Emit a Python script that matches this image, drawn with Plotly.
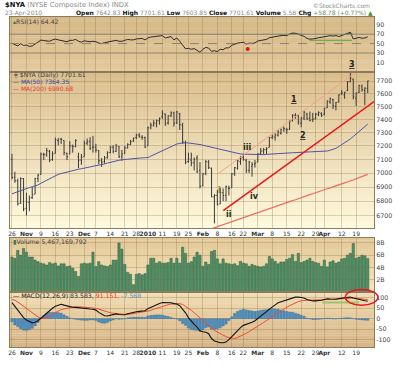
import math
import pandas as pd
import plotly.graph_objects as go

# ---------------- DATA ----------------
HOLIDAYS = ["2009-11-26", "2009-12-25", "2010-01-01", "2010-01-18", "2010-02-15", "2010-04-02"]
trading_days = [d for d in pd.bdate_range("2009-10-26", "2010-04-23")
                if d.strftime("%Y-%m-%d") not in HOLIDAYS]
day_index = {d.strftime("%Y-%m-%d"): i for i, d in enumerate(trading_days)}
xi = list(range(len(trading_days)))

tick_dates = ["2009-10-26", "2009-11-02", "2009-11-09", "2009-11-16", "2009-11-23", "2009-12-01",
              "2009-12-07", "2009-12-14", "2009-12-21", "2009-12-28", "2010-01-04", "2010-01-11",
              "2010-01-19", "2010-01-25", "2010-02-01", "2010-02-08", "2010-02-16", "2010-02-22",
              "2010-03-01", "2010-03-08", "2010-03-15", "2010-03-22", "2010-03-29", "2010-04-01",
              "2010-04-12", "2010-04-19"]
tick_labels = ["26", "Nov", "9", "16", "23", "Dec", "7", "14", "21", "28", "2010", "11", "19", "25",
               "Feb", "8", "16", "22", "Mar", "8", "15", "22", "29", "Apr", "12", "19"]
bold_labels = {"Nov", "Dec", "2010", "Feb", "Mar", "Apr"}

opens = [7100, 6970, 6945, 6785, 6960, 6750, 6790, 6825, 6850, 6960,
         6990, 7135, 7135, 7160, 7100, 7145, 7240, 7250, 7240, 7145,
         7140, 7200, 7195, 7120, 7095, 7120, 7220, 7235, 7190, 7190,
         7165, 7090, 7085, 7115, 7150, 7190, 7160, 7195, 7120, 7145,
         7185, 7210, 7235, 7262, 7282, 7265, 7262, 7200, 7336, 7356,
         7370, 7390, 7420, 7440, 7372, 7428, 7450, 7375, 7445, 7355,
         7225, 7085, 7095, 7075, 7110, 7020, 6910, 6995, 7080, 7035,
         6830, 6840, 6780, 6860, 6840, 6890, 6895, 6995, 7035, 7085,
         7115, 7090, 7020, 7050, 7065, 7080, 7145, 7162, 7172, 7190,
         7262, 7265, 7280, 7295, 7335, 7320, 7325, 7390, 7430, 7430,
         7370, 7410, 7440, 7410, 7400, 7405, 7440, 7445, 7440, 7490,
         7535, 7555, 7500, 7535, 7600, 7590, 7625, 7695, 7715, 7565,
         7610, 7660, 7625, 7642.83]
highs = [7140, 7010, 6960, 6970, 6965, 6860, 6840, 6900, 6965, 6995,
         7150, 7150, 7185, 7170, 7160, 7262, 7258, 7260, 7242, 7150,
         7235, 7210, 7250, 7150, 7140, 7240, 7255, 7265, 7275, 7215,
         7170, 7110, 7125, 7160, 7200, 7205, 7215, 7200, 7170, 7200,
         7220, 7245, 7262, 7290, 7295, 7280, 7270, 7345, 7375, 7395,
         7398, 7415, 7470, 7445, 7432, 7462, 7460, 7465, 7450, 7375,
         7240, 7150, 7150, 7115, 7130, 7080, 7000, 7095, 7095, 7040,
         6850, 6880, 6895, 6890, 6910, 6910, 7000, 7045, 7095, 7125,
         7140, 7105, 7090, 7080, 7095, 7145, 7185, 7185, 7190, 7268,
         7285, 7295, 7320, 7330, 7345, 7335, 7395, 7440, 7448, 7438,
         7420, 7465, 7450, 7460, 7450, 7450, 7462, 7455, 7490, 7548,
         7570, 7560, 7535, 7595, 7628, 7615, 7700, 7765, 7718, 7610,
         7670, 7672, 7650, 7701.61]
lows = [6955, 6930, 6770, 6780, 6730, 6700, 6730, 6815, 6850, 6935,
        6990, 7095, 7120, 7080, 7090, 7145, 7205, 7215, 7130, 7095,
        7140, 7150, 7190, 7035, 7060, 7120, 7205, 7170, 7150, 7150,
        7065, 7045, 7070, 7105, 7145, 7145, 7155, 7110, 7090, 7140,
        7180, 7205, 7230, 7250, 7260, 7245, 7185, 7200, 7325, 7345,
        7340, 7360, 7405, 7350, 7360, 7418, 7345, 7365, 7320, 7215,
        7065, 7075, 7050, 7020, 7000, 6890, 6905, 6985, 7030, 6828,
        6645, 6770, 6780, 6800, 6800, 6840, 6895, 6980, 7025, 7060,
        7090, 7000, 7000, 6975, 7040, 7080, 7140, 7140, 7140, 7188,
        7250, 7240, 7270, 7285, 7305, 7290, 7320, 7385, 7405, 7360,
        7340, 7395, 7395, 7385, 7380, 7400, 7425, 7420, 7430, 7488,
        7520, 7480, 7470, 7530, 7590, 7560, 7620, 7690, 7555, 7505,
        7605, 7615, 7510, 7603.85]
closes = [6968, 6945, 6780, 6960, 6745, 6795, 6822, 6846, 6962, 6985,
          7140, 7135, 7165, 7095, 7140, 7245, 7252, 7248, 7150, 7120,
          7200, 7195, 7240, 7095, 7115, 7220, 7232, 7180, 7190, 7170,
          7090, 7080, 7110, 7150, 7190, 7160, 7200, 7120, 7140, 7185,
          7210, 7232, 7258, 7282, 7272, 7262, 7190, 7336, 7356, 7372,
          7390, 7408, 7448, 7372, 7428, 7450, 7370, 7458, 7360, 7230,
          7080, 7105, 7075, 7098, 7010, 6905, 6995, 7085, 7040, 6830,
          6840, 6775, 6860, 6840, 6905, 6890, 6995, 7040, 7090, 7108,
          7100, 7020, 7080, 7062, 7072, 7140, 7162, 7172, 7180, 7262,
          7272, 7280, 7305, 7322, 7330, 7322, 7385, 7432, 7428, 7382,
          7410, 7455, 7405, 7392, 7402, 7440, 7452, 7430, 7482, 7540,
          7560, 7505, 7530, 7590, 7605, 7610, 7695, 7722, 7578, 7605,
          7665, 7632, 7642.83, 7701.61]

ma50 = [6852, 6860, 6868, 6875, 6883, 6890, 6896, 6902, 6908, 6915,
        6927, 6938, 6950, 6961, 6972, 6984, 6991, 6997, 7003, 7009,
        7015, 7020, 7024, 7028, 7032, 7036, 7040, 7044, 7048, 7052,
        7055, 7061, 7067, 7073, 7079, 7085, 7090, 7094, 7097, 7100,
        7102, 7105, 7107, 7109, 7110, 7111, 7112, 7114, 7124, 7134,
        7144, 7155, 7165, 7176, 7186, 7196, 7206, 7214, 7219, 7222,
        7223, 7222, 7220, 7218, 7215, 7210, 7205, 7200, 7195, 7190,
        7185, 7180, 7175, 7170, 7163, 7158, 7153, 7148, 7144, 7140,
        7139, 7138, 7137, 7136, 7135, 7134, 7133, 7135, 7137, 7139,
        7141, 7142, 7143, 7145, 7146, 7147, 7148, 7149, 7150, 7151,
        7152, 7153, 7153, 7154, 7154, 7155, 7156, 7156, 7157, 7162,
        7168, 7175, 7182, 7195, 7208, 7222, 7235, 7252, 7270, 7288,
        7306, 7325, 7344, 7364.35]

ma200_first_day = 60
ma200 = [6546, 6552, 6560, 6566, 6574, 6580, 6588, 6594, 6602, 6609,
         6615, 6621, 6629, 6635, 6643, 6650, 6656, 6664, 6670, 6678,
         6685, 6691, 6699, 6705, 6713, 6720, 6726, 6734, 6741, 6747,
         6755, 6762, 6768, 6776, 6783, 6789, 6797, 6804, 6810, 6818,
         6825, 6831, 6839, 6846, 6852, 6860, 6867, 6873, 6881, 6888,
         6894, 6902, 6909, 6915, 6923, 6930, 6936, 6944, 6951, 6957,
         6965, 6972, 6981, 6990.68]

volume_b = [5.7, 5.5, 6.8, 6.0, 7.1, 6.5, 5.7, 5.7, 5.2, 4.95,
            4.7, 4.6, 4.4, 4.8, 4.6, 4.7, 4.25, 4.6, 4.6, 4.15,
            4.25, 3.9, 3.35, 2.55, 4.6, 4.7, 4.6, 4.7, 6.5, 4.15,
            4.95, 4.4, 4.25, 4.15, 4.4, 5.2, 5.2, 8.0, 7.0, 4.5,
            3.2, 2.9, 1.2, 2.9, 3.0, 2.8, 3.0, 4.4, 5.5, 5.5,
            4.7, 4.95, 4.7, 4.7, 4.8, 5.5, 4.7, 5.5, 4.7, 7.3,
            6.3, 4.7, 4.95, 5.7, 6.5, 6.0, 4.2, 4.9, 4.5, 6.6,
            6.8, 5.4, 4.6, 5.4, 4.7, 4.6, 4.5, 4.6, 4.3, 5.0,
            4.7, 4.6, 4.2, 4.5, 4.3, 4.2, 4.1, 4.2, 4.6, 5.8,
            5.4, 5.0, 4.6, 4.9, 4.9, 5.3, 5.5, 6.1, 5.0, 6.3,
            4.8, 5.0, 5.2, 5.5, 5.0, 4.8, 4.7, 4.2, 5.2, 4.1,
            4.9, 5.1, 4.7, 4.9, 5.4, 5.5, 6.0, 6.3, 7.9, 5.5,
            5.7, 6.0, 5.9, 5.467169792]

rsi = [50.7, 48, 45, 50, 46, 47, 44, 45, 49, 53,
       57.5, 56.5, 56, 55, 58, 59.5, 58, 57, 55, 54,
       57, 57, 59, 55, 53, 56, 55, 54, 55, 54,
       51, 50, 52, 53, 55, 55, 57, 55, 55, 57,
       59, 58, 58, 60, 60, 61, 58, 62, 64, 64.5,
       65, 65.5, 67, 62, 64, 65, 58, 62, 55, 47,
       39, 40, 38, 39.5, 36, 31.5, 38, 42, 40.5, 33.5,
       35, 33, 38, 37, 41, 41, 46.5, 49, 51, 52,
       53, 49, 51, 50.5, 51.5, 55.5, 57, 58, 59, 62.5,
       64, 65, 66, 67, 67.5, 67, 70.5, 72.5, 72, 70,
       67, 65.5, 61, 59.5, 60, 61, 62, 62.5, 64.5, 66,
       67, 66, 67, 65, 67, 70, 72, 74, 60, 61,
       63, 61.5, 62, 64.42]

macd = [77, 58, 42, 22, 5, -6, -15, -20, -17, -10,
        2, 15, 28, 40, 50, 60, 66, 69, 65, 61,
        57, 55, 54, 52, 49, 47, 46, 46, 45, 41,
        30, 20, 14, 13, 17, 20, 23, 20, 19, 19,
        24, 28, 31, 33, 35, 37, 38, 48, 55, 62,
        68, 73, 77, 77, 77, 76, 72, 70, 62, 45,
        28, 5, -12, -27, -40, -58, -63, -65, -72, -95,
        -107, -112, -115, -115, -112, -100, -85, -70, -55, -43,
        -32, -28, -23, -17, -10, 0, 12, 24, 34, 46,
        58, 66, 76, 81, 86, 89, 94, 101, 103, 104,
        102, 99, 92, 88, 85, 85, 86, 88, 92, 95,
        94, 92, 93, 96, 98, 101, 104, 104, 99, 95,
        92, 88, 86, 83.583]
signal = [92, 88, 80, 70, 60, 50, 38, 26, 17, 8,
          2, 1, 4, 10, 20, 30, 37, 43, 47, 50,
          53, 55, 57, 57, 56, 55, 54, 52, 51, 49,
          46, 41, 36, 31, 28, 26, 24, 23, 21, 20,
          20, 22, 24, 26, 28, 30, 32, 35, 39, 45,
          50, 55, 60, 64, 67, 70, 71, 72, 72, 68,
          60, 50, 40, 28, 16, 2, -10, -22, -32, -45,
          -56, -64, -72, -80, -86, -91, -94, -95, -90, -84,
          -77, -70, -62, -54, -45, -37, -28, -18, -9, 0,
          10, 20, 31, 40, 48, 55, 62, 70, 77, 82,
          86, 88, 89, 89, 89, 89, 89, 90, 91, 92,
          92, 93, 94, 95, 96, 97, 99, 100, 99, 98,
          96, 94, 93, 91.151]
hist = [-15, -30, -38, -48, -55, -56, -53, -46, -34, -18,
        0, 14, 24, 30, 30, 30, 29, 26, 18, 11,
        4, 0, -3, -5, -7, -8, -8, -6, -6, -8,
        -16, -21, -22, -18, -11, -6, -1, -3, -2, -1,
        4, 6, 7, 7, 7, 7, 6, 13, 16, 17,
        18, 18, 17, 13, 10, 6, 1, -2, -10, -23,
        -32, -45, -52, -55, -56, -60, -53, -43, -40, -50,
        -51, -48, -43, -35, -26, -9, 9, 25, 35, 41,
        45, 42, 39, 37, 35, 37, 40, 42, 43, 46,
        48, 46, 45, 41, 38, 34, 32, 31, 26, 22,
        16, 11, 3, -1, -4, -4, -3, -2, 1, 3,
        2, -1, -1, 1, 2, 4, 5, 4, 0, -3,
        -4, -6, -7, -7.568]

# analyst drawings (trading-day index, value)
trend_upper_day = [71.3, 132.0]
trend_upper_price = [6996, 7998]
trend_lower_day = [73.05, 126.5]
trend_lower_price = [6733, 7559]
rsi_support_day = [102.9, 117.6]
rsi_support_val = [57, 57]
macd_support_day = [107.3, 120.0]
macd_support_val = [77, 77]
rsi_dot_day = [81.5]
rsi_dot_val = [38.3]

# ---------------- FIGURE ----------------
W, H = 400, 365
ML, MR, MT, MB = 8, 25, 17, 9
PW, PH = W - ML - MR, H - MT - MB


def pxx(p):
    return (p - ML) / PW


def pxy(p):
    return (H - MB - p) / PH


FONT = "DejaVu Sans"
GRID = "rgba(130,100,60,0.28)"
AXLINE = "#8c7b5e"

fig = go.Figure()


def gradient(ytop, ybot, ctop, cbot, n=24):
    def hx(c):
        return [int(c[i:i + 2], 16) for i in (1, 3, 5)]
    a, b = hx(ctop), hx(cbot)
    step = (ybot - ytop) / n
    for k in range(n):
        t = k / (n - 1)
        col = "rgb(%d,%d,%d)" % tuple(round(a[j] + (b[j] - a[j]) * t) for j in range(3))
        y0 = ytop + k * step
        fig.add_shape(type="rect", xref="paper", yref="paper", x0=0, x1=1,
                      y0=pxy(min(y0 + step + 0.3, ybot)), y1=pxy(y0), fillcolor=col,
                      line=dict(width=0), layer="below")


gradient(17, 73, "#d7b988", "#e2c89b")
gradient(73, 234, "#dcbf8f", "#fdf9dc")
gradient(244, 299.5, "#e3c896", "#f3e5bd")
gradient(299.5, 356, "#f0ddb3", "#d6b586")

tickpos = [day_index[d] for d in tick_dates]
ticktxt = ["<b>%s</b>" % t if t in bold_labels else t for t in tick_labels]

# RSI panel
fig.add_trace(go.Scatter(x=xi, y=[70] * len(xi), mode="lines", line=dict(width=0),
                         xaxis="x2", yaxis="y2", hoverinfo="skip"))
fig.add_trace(go.Scatter(x=xi, y=[max(v, 70) for v in rsi], mode="lines", line=dict(width=0),
                         fill="tonexty", fillcolor="rgba(40,110,40,0.85)",
                         xaxis="x2", yaxis="y2", hoverinfo="skip"))
for lvl, dash in ((70, "solid"), (30, "solid"), (50, "dash")):
    fig.add_shape(type="line", xref="x2", yref="y2", x0=-0.686, x1=125.17, y0=lvl, y1=lvl,
                  line=dict(color="#8a8070", width=1, dash=dash))
fig.add_trace(go.Scatter(x=rsi_support_day, y=rsi_support_val, mode="lines",
                         line=dict(color="#6ab04c", width=1.2), xaxis="x2", yaxis="y2"))
fig.add_trace(go.Scatter(x=xi, y=rsi, mode="lines", line=dict(color="#2b2b2b", width=1),
                         xaxis="x2", yaxis="y2"))
fig.add_trace(go.Scatter(x=rsi_dot_day, y=rsi_dot_val, mode="markers",
                         marker=dict(color="#e8101a", size=4), xaxis="x2", yaxis="y2"))

# Main price panel
fig.add_trace(go.Scatter(x=xi[ma200_first_day:], y=ma200, mode="lines",
                         line=dict(color="#f06a5e", width=1.2), xaxis="x", yaxis="y"))
fig.add_trace(go.Scatter(x=xi, y=ma50, mode="lines", line=dict(color="#5055a8", width=1),
                         xaxis="x", yaxis="y"))
fig.add_trace(go.Scatter(x=trend_upper_day, y=trend_upper_price, mode="lines",
                         line=dict(color="#f3a08e", width=1), xaxis="x", yaxis="y"))
fig.add_trace(go.Scatter(x=trend_lower_day, y=trend_lower_price, mode="lines",
                         line=dict(color="#e8141c", width=1.5), xaxis="x", yaxis="y"))
fig.add_trace(go.Ohlc(x=xi, open=opens, high=highs, low=lows, close=closes,
                      increasing=dict(line=dict(color="#3a3a3a", width=1)),
                      decreasing=dict(line=dict(color="#3a3a3a", width=1)),
                      tickwidth=0.35, xaxis="x", yaxis="y", hoverinfo="skip"))

# Volume panel
fig.add_trace(go.Bar(x=xi, y=[v * 1e9 for v in volume_b], marker=dict(color="#4f9166",
                     line=dict(color="#2c5a3c", width=0.5)), xaxis="x3", yaxis="y3"))

# MACD panel
fig.add_trace(go.Bar(x=xi, y=hist, marker=dict(color="#4a90c6", line=dict(color="#2d6492", width=0.4)),
                     xaxis="x4", yaxis="y4"))
fig.add_trace(go.Scatter(x=macd_support_day, y=macd_support_val, mode="lines",
                         line=dict(color="#9cc36a", width=2), xaxis="x4", yaxis="y4"))
fig.add_trace(go.Scatter(x=xi, y=signal, mode="lines", line=dict(color="#f04a3a", width=1),
                         xaxis="x4", yaxis="y4"))
fig.add_trace(go.Scatter(x=xi, y=macd, mode="lines", line=dict(color="#111111", width=1.1),
                         xaxis="x4", yaxis="y4"))

# red ellipse annotation in MACD panel
fig.add_shape(type="circle", xref="paper", yref="paper", x0=pxx(346), x1=pxx(379),
              y0=pxy(313), y1=pxy(297), line=dict(color="#e8141c", width=1.5))

xcommon = dict(range=[-0.686, 125.17], tickvals=tickpos, ticktext=ticktxt, showgrid=True,
               gridcolor=GRID, gridwidth=1, zeroline=False, showline=True, mirror=True,
               linecolor=AXLINE, linewidth=1, ticks="", tickangle=0,
               tickfont=dict(family=FONT, size=6, color="#333"), fixedrange=True)
ycommon = dict(side="right", zeroline=False, showline=True, mirror=True, linecolor=AXLINE,
               linewidth=1, ticks="", gridcolor=GRID, gridwidth=1,
               tickfont=dict(family=FONT, size=6.3, color="#444"), fixedrange=True)

price_ticks = [6700, 6800, 6900, 7000, 7100, 7200, 7300, 7400, 7500, 7600, 7700]

fig.update_layout(
    width=W, height=H, margin=dict(l=ML, r=MR, t=MT, b=MB),
    paper_bgcolor="white", plot_bgcolor="rgba(0,0,0,0)", showlegend=False,
    font=dict(family=FONT, size=6.5, color="#333"), bargap=0.22, hovermode=False,
    xaxis=dict(xcommon, anchor="y", domain=[0, 1], rangeslider=dict(visible=False), showticklabels=True),
    xaxis2=dict(xcommon, anchor="y2", domain=[0, 1], showticklabels=False),
    xaxis3=dict(xcommon, anchor="y3", domain=[0, 1], showticklabels=False),
    xaxis4=dict(xcommon, anchor="y4", domain=[0, 1], showticklabels=True),
    yaxis=dict(ycommon, anchor="x", domain=[pxy(234), pxy(73)], type="log",
               range=[math.log10(6612), math.log10(7776)], tickvals=price_ticks,
               ticktext=[str(v) for v in price_ticks], showgrid=True),
    yaxis2=dict(ycommon, anchor="x2", domain=[pxy(73), 1], range=[-9.3, 106.6],
                tickvals=[10, 30, 50, 70, 90], ticktext=["10", "30", "50", "70", "90"], showgrid=False),
    yaxis3=dict(ycommon, anchor="x3", domain=[pxy(299.5), pxy(244)], range=[0, 8.81e9],
                tickvals=[2e9, 4e9, 6e9, 8e9], ticktext=["2B", "4B", "6B", "8B"], showgrid=True),
    yaxis4=dict(ycommon, anchor="x4", domain=[0, pxy(299.5)], range=[-135.6, 127.7],
                tickvals=[-100, -50, 0, 50, 100], ticktext=["-100", "-50", "0", "50", "100"], showgrid=True),
)

anns = []


def note(text, x, y, size=6.5, color="#333", xanchor="left", yanchor="middle", family=FONT):
    anns.append(dict(text=text, x=pxx(x), y=pxy(y), xref="paper", yref="paper", showarrow=False,
                     xanchor=xanchor, yanchor=yanchor, font=dict(family=family, size=size, color=color)))


# header
note("<b>$NYA</b> <span style='color:#8a8a8a'>(NYSE Composite Index) INDX</span>", 1, 4.5, size=6.8, color="#111")
note("©StockCharts.com", 373, 5, size=6, color="#8a8a8a", xanchor="right")
note("23-Apr-2010", 1, 12.5, size=6, color="#8a8a8a")
note("<b>Open</b> <span style='color:#8a8a8a'>7642.83</span> <b>High</b> "
     "<span style='color:#8a8a8a'>7701.61</span> <b>Low</b> <span style='color:#8a8a8a'>7603.85</span> "
     "<b>Close</b> <span style='color:#8a8a8a'>7701.61</span> <b>Volume</b> "
     "<span style='color:#8a8a8a'>5.5B</span> <b>Chg</b> "
     "<span style='color:#6a8a6a'>+58.78 (+0.77%)</span> <span style='color:#2e9a2e'>▲</span>",
     376, 12.5, size=6, color="#111", xanchor="right")

# panel legends
note("<span style='color:#2e8a2e'>▴</span>RSI(14) 64.42", 9, 21.5, size=6.2, color="#444")
note("<span style='color:#444'>╪</span> $NYA (Daily) 7701.61", 9, 77, size=6.2, color="#444")
note("<span style='color:#3f44a0'>— MA(50) 7364.35</span>", 9, 83.5, size=6, color="#3f44a0")
note("<span style='color:#e83a30'>— MA(200) 6990.68</span>", 9, 90, size=6, color="#e83a30")
note("<span style='color:#3a7a4e'>▮</span>Volume 5,467,169,792", 9, 247.5, size=6.2, color="#444")
note("— MACD(12,26,9) 83.583, <span style='color:#e83a30'>91.151,</span> "
     "<span style='color:#4a90c6'>-7.568</span>", 9, 303, size=6.2, color="#222")

# wave labels
WB = "DejaVu Sans"
note("<b>i</b>", 219, 195, size=8, color="#7d7a1c", xanchor="center", family=WB)
note("<b>ii</b>", 229, 220, size=8, color="#1f2a14", xanchor="center", family=WB)
note("<b>iii</b>", 246.7, 150.7, size=8, color="#1f2a14", xanchor="center", family=WB)
note("<b>iv</b>", 255, 201.7, size=8, color="#1f2a14", xanchor="center", family=WB)
note("<b><u>1</u></b>", 294.3, 101.7, size=8, color="#1f1f1f", xanchor="center", family=WB)
note("<b><u>2</u></b>", 303.3, 139, size=8, color="#1f1f1f", xanchor="center", family=WB)
note("<b><u>3</u></b>", 352.7, 66, size=8, color="#1f1f1f", xanchor="center", family=WB)

fig.update_layout(annotations=anns)
fig.write_html("out.html", config={"displayModeBar": False},
               post_script="document.body.style.margin='0';document.body.style.overflow='hidden';")
